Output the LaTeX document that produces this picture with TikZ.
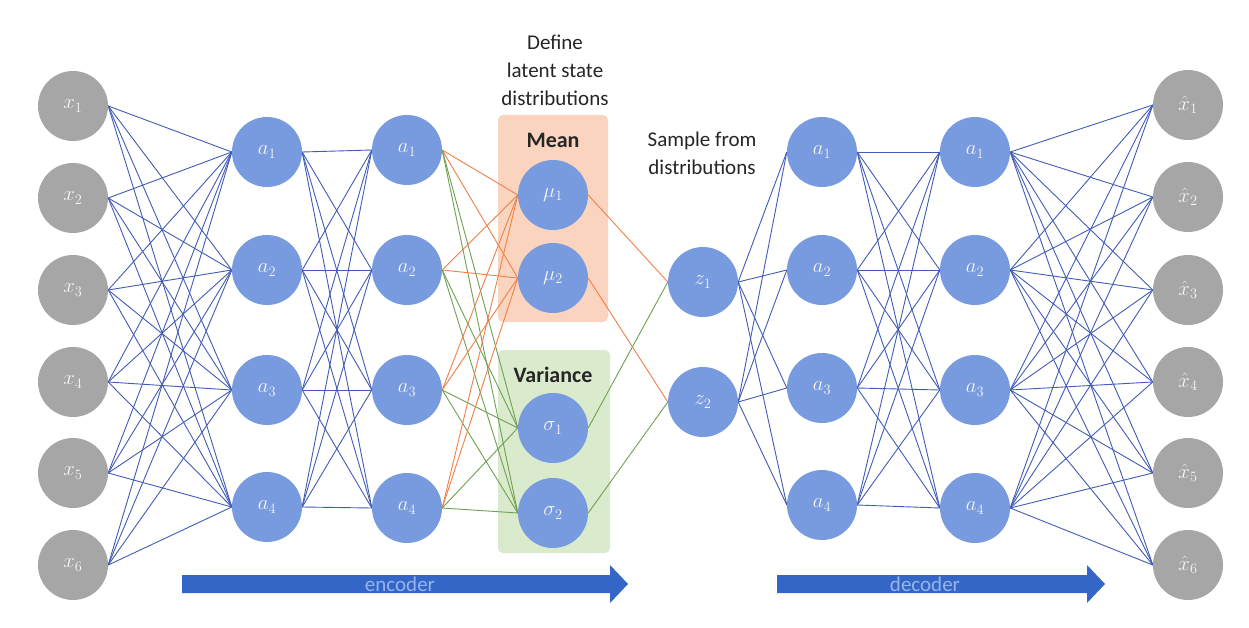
\documentclass[tikz,border=0pt]{standalone}
\usepackage{fontspec}
\setmainfont{Carlito}
\definecolor{nodeblue}{RGB}{120,154,222}
\definecolor{nodegray}{RGB}{166,166,166}
\definecolor{linkblue}{RGB}{66,92,182}
\definecolor{linkorange}{RGB}{238,128,72}
\definecolor{linkgreen}{RGB}{112,160,82}
\definecolor{meanfill}{RGB}{250,212,190}
\definecolor{varfill}{RGB}{218,234,205}
\definecolor{arrowblue}{RGB}{52,102,200}
\definecolor{arrowtext}{RGB}{150,180,235}
\pgfdeclarelayer{paper}
\pgfdeclarelayer{boxes}
\pgfdeclarelayer{links}
\pgfsetlayers{paper,boxes,links,main}
\tikzset{
  neuron/.style={circle, minimum size=70pt, inner sep=0pt, text=white!92!gray, font=\fontsize{20}{20}\selectfont},
  bluenode/.style={neuron, fill=nodeblue},
  graynode/.style={neuron, fill=nodegray},
  link/.style={draw=linkblue, line width=0.9pt},
  olink/.style={draw=linkorange, line width=0.9pt},
  glink/.style={draw=linkgreen, line width=0.9pt},
  caption/.style={align=center, text=black!85, font=\fontsize{21}{28}\selectfont},
  boxtitle/.style={text=black!85, font=\fontsize{22}{22}\selectfont\bfseries},
  groupbox/.style={rounded corners=5pt, inner sep=0pt},
  flowarrow/.style={fill=arrowblue},
  flowtext/.style={text=arrowtext, font=\fontsize{21}{21}\selectfont}
}
\begin{document}
\begin{tikzpicture}[x=1pt,y=-1pt]
\useasboundingbox (0,0) rectangle (1249,628);
\begin{pgfonlayer}{paper}
\fill[white] (0,0) rectangle (1249,628);
\end{pgfonlayer}

% group boxes
\begin{pgfonlayer}{boxes}
\node[groupbox, fill=meanfill, minimum width=110pt, minimum height=207pt] (meanbox) at (553,218.5) {};
\node[groupbox, fill=varfill, minimum width=112pt, minimum height=203pt] (varbox) at (554,451.5) {};
\end{pgfonlayer}

% input layer
\foreach \i/\y in {1/106,2/198,3/290,4/382,5/473,6/565}
  \node[graynode] (x\i) at (73,\y) {$x_{\i}$};
% encoder hidden layers
\foreach \i/\y in {1/152,2/270,3/390,4/507}
  \node[bluenode] (e\i) at (267,\y) {$a_{\i}$};
\foreach \i/\y in {1/150,2/270,3/390,4/508}
  \node[bluenode] (f\i) at (407,\y) {$a_{\i}$};
% latent distributions
\node[bluenode] (mu1) at (553,195) {$\mu_1$};
\node[bluenode] (mu2) at (553,278) {$\mu_2$};
\node[bluenode] (s1) at (553,428) {$\sigma_1$};
\node[bluenode] (s2) at (553,513) {$\sigma_2$};
% samples
\node[bluenode] (z1) at (703,282) {$z_1$};
\node[bluenode] (z2) at (703,402) {$z_2$};
% decoder hidden layers
\foreach \i/\y in {1/152,2/270,3/388,4/505}
  \node[bluenode] (d\i) at (822,\y) {$a_{\i}$};
\foreach \i/\y in {1/152,2/270,3/390,4/508}
  \node[bluenode] (g\i) at (975,\y) {$a_{\i}$};
% outputs
\foreach \i/\y in {1/105,2/197,3/290,4/382,5/473,6/565}
  \node[graynode] (o\i) at (1188,\y) {$\hat{x}_{\i}$};

% links
\begin{pgfonlayer}{links}
\foreach \i in {1,...,6}
  \foreach \j in {1,...,4}
    \draw[link] (x\i.east) -- (e\j.west);
\foreach \i in {1,...,4}
  \foreach \j in {1,...,4}
    \draw[link] (e\i.east) -- (f\j.west);
\foreach \i in {1,...,4}{
  \foreach \j in {1,2}
    \draw[olink] (f\i.east) -- (mu\j.west);
  \foreach \j in {1,2}
    \draw[glink] (f\i.east) -- (s\j.west);
}
\draw[olink] (mu1.east) -- (z1.west);
\draw[olink] (mu2.east) -- (z2.west);
\draw[glink] (s1.east) -- (z1.west);
\draw[glink] (s2.east) -- (z2.west);
\foreach \i in {1,2}
  \foreach \j in {1,...,4}
    \draw[link] (z\i.east) -- (d\j.west);
\foreach \i in {1,...,4}
  \foreach \j in {1,...,4}
    \draw[link] (d\i.east) -- (g\j.west);
\foreach \i in {1,...,4}
  \foreach \j in {1,...,6}
    \draw[link] (g\i.east) -- (o\j.west);
\end{pgfonlayer}

% captions
\node[caption] (definetxt) at (555,70) {Define\\latent state\\distributions};
\node[boxtitle] (meantxt) at (553,140) {Mean};
\node[boxtitle] (vartxt) at (553,375) {Variance};
\node[caption] (sampletxt) at (702,153) {Sample from\\distributions};

% flow arrows
\fill[flowarrow] (182,575) -- (610,575) -- (610,565) -- (628,584) -- (610,603) -- (610,593) -- (182,593) -- cycle;
\node[flowtext] (enctxt) at (400,584) {encoder};
\fill[flowarrow] (777,575) -- (1087,575) -- (1087,565) -- (1105,584) -- (1087,603) -- (1087,593) -- (777,593) -- cycle;
\node[flowtext] (dectxt) at (925,584) {decoder};
\end{tikzpicture}
\end{document}
